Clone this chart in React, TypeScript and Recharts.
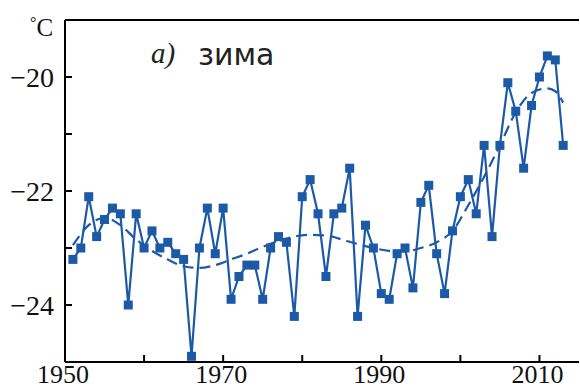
import { LineChart, Line, XAxis, YAxis, ReferenceLine } from "recharts";

const years = [
  1951, 1952, 1953, 1954, 1955, 1956, 1957, 1958, 1959, 1960, 1961, 1962, 1963,
  1964, 1965, 1966, 1967, 1968, 1969, 1970, 1971, 1972, 1973, 1974, 1975, 1976,
  1977, 1978, 1979, 1980, 1981, 1982, 1983, 1984, 1985, 1986, 1987, 1988, 1989,
  1990, 1991, 1992, 1993, 1994, 1995, 1996, 1997, 1998, 1999, 2000, 2001, 2002,
  2003, 2004, 2005, 2006, 2007, 2008, 2009, 2010, 2011, 2012, 2013,
];
const winterTemp = [
  -23.2, -23.0, -22.1, -22.8, -22.5, -22.3, -22.4, -24.0, -22.4, -23.0, -22.7,
  -23.0, -22.9, -23.1, -23.2, -24.9, -23.0, -22.3, -23.1, -22.3, -23.9, -23.5,
  -23.3, -23.3, -23.9, -23.0, -22.8, -22.9, -24.2, -22.1, -21.8, -22.4, -23.5,
  -22.4, -22.3, -21.6, -24.2, -22.6, -23.0, -23.8, -23.9, -23.1, -23.0, -23.7,
  -22.2, -21.9, -23.1, -23.8, -22.7, -22.1, -21.8, -22.4, -21.2, -22.8, -21.2,
  -20.1, -20.6, -21.6, -20.5, -20.0, -19.63, -19.7, -21.2,
];

// smoothed trend (dashed)
const trendYears = [
  1951, 1953, 1955, 1957, 1959, 1961, 1963, 1965, 1967, 1969, 1971, 1973, 1975,
  1977, 1979, 1981, 1983, 1985, 1987, 1989, 1991, 1993, 1995, 1997, 1999, 2001,
  2003, 2005, 2007, 2009, 2011, 2012, 2013,
];
const trendTemp = [
  -22.95, -22.6, -22.47, -22.6, -22.85, -23.05, -23.2, -23.32, -23.35, -23.3,
  -23.2, -23.1, -22.98, -22.88, -22.8, -22.77, -22.78, -22.85, -22.93, -23.0,
  -23.05, -23.06, -23.0, -22.9, -22.7, -22.25, -21.75, -21.2, -20.62, -20.28,
  -20.2, -20.25, -20.45,
];

const xTicks = [1950, 1960, 1970, 1980, 1990, 2000, 2010];
const xLabels = [1950, 1970, 1990, 2010];
const yTicks = [-24, -23, -22, -21, -20];
const yLabels = [-24, -22, -20];

const BLUE = "#1c5aa8";
const SERIF = "Liberation Serif";

const winter = years.map((year, i) => ({ year, t: winterTemp[i] }));
const trend = trendYears.map((year, i) => ({ year, t: trendTemp[i] }));

function XTick({ x, y, payload }: any) {
  return (
    <g>
      <line x1={x} x2={x} y1={y} y2={y - 7} stroke="#000" strokeWidth={2} />
      {xLabels.includes(payload.value) && (
        <text x={x - 2} y={y + 21} textAnchor="middle" fontFamily={SERIF} fontSize={26} fill="#111">
          {payload.value}
        </text>
      )}
    </g>
  );
}

function YTick({ x, y, payload }: any) {
  return (
    <g>
      <line x1={x} x2={x + 7} y1={y} y2={y} stroke="#000" strokeWidth={2} />
      {yLabels.includes(payload.value) && (
        <text x={x - 11} y={y + 10} textAnchor="end" fontFamily={SERIF} fontSize={28} fill="#111">
          {"\u2212" + Math.abs(payload.value)}
        </text>
      )}
    </g>
  );
}

function SquareDot({ cx, cy }: any) {
  return <rect x={cx - 4.5} y={cy - 4.5} width={9} height={9} fill={BLUE} />;
}

export default function App() {
  return (
    <div style={{ position: "absolute", left: 0, top: 0, width: 580, height: 389, background: "#fff" }}>
      <LineChart width={580} height={389} margin={{ top: 20, right: 1, bottom: 0, left: 0 }}>
        <XAxis
          type="number"
          dataKey="year"
          domain={[1950, 2015]}
          ticks={xTicks}
          height={27}
          tickSize={0}
          tickMargin={0}
          tick={<XTick />}
          axisLine={{ stroke: "#000", strokeWidth: 2 }}
          allowDataOverflow
        />
        <YAxis
          type="number"
          domain={[-25, -19]}
          ticks={yTicks}
          width={65}
          tickSize={0}
          tickMargin={0}
          tick={<YTick />}
          axisLine={{ stroke: "#000", strokeWidth: 2 }}
          allowDataOverflow
        />
        <ReferenceLine y={-19} stroke="#000" strokeWidth={2} />
        <Line
          data={trend}
          dataKey="t"
          type="monotone"
          stroke={BLUE}
          strokeWidth={2.2}
          strokeDasharray="11 6"
          dot={false}
          isAnimationActive={false}
        />
        <Line
          data={winter}
          dataKey="t"
          type="linear"
          stroke={BLUE}
          strokeWidth={2.2}
          dot={(p: any) => <SquareDot key={p.index} {...p} />}
          isAnimationActive={false}
        />
        <text x={30} y={36} fontFamily={SERIF} fontSize={25} fill="#111">
          <tspan fontSize={16} dy={-8}>°</tspan>
          <tspan dy={8}>C</tspan>
        </text>
        <text x={151} y={63} fontFamily={SERIF} fontStyle="italic" fontSize={29} fill="#222">
          a)
        </text>
        <text x={198} y={65} fontFamily="DejaVu Sans" fontSize={30} fill="#222">
          зима
        </text>
      </LineChart>
    </div>
  );
}
